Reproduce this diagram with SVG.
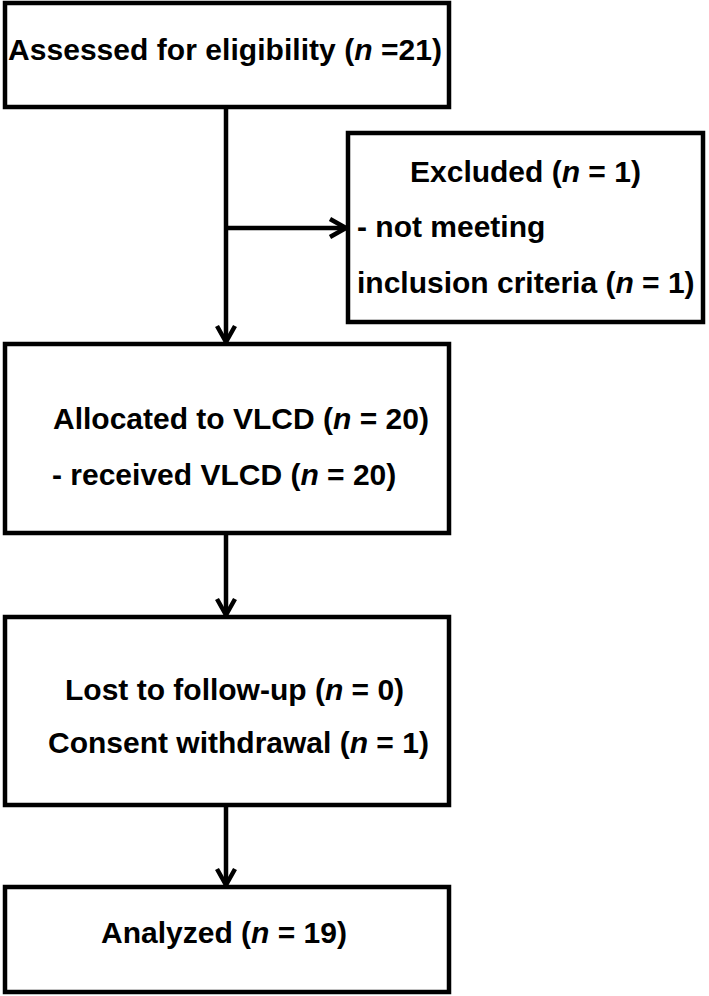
<svg xmlns="http://www.w3.org/2000/svg" width="709" height="996" viewBox="0 0 709 996">
  <style>
    .box { fill: #ffffff; stroke: #000000; stroke-width: 4.5; }
    .lbl { font-family: "Liberation Sans", Arial, sans-serif; font-weight: bold; font-size: 30px; fill: #000000; }
    .it { font-style: italic; }
    .conn { fill: none; stroke: #000000; stroke-width: 4.5; }
  </style>
  <defs>
    <marker id="arrow" markerUnits="userSpaceOnUse" markerWidth="30" markerHeight="30" viewBox="-20 -15 25 30" refX="0" refY="0" orient="auto">
      <path d="M -16 -9 L 0 0 L -16 9" fill="none" stroke="#000000" stroke-width="4.5" stroke-linejoin="miter"/>
    </marker>
  </defs>
  <rect x="0" y="0" width="709" height="996" fill="#ffffff"/>

  <g id="connectors">
    <path class="conn" d="M 226 107 L 226 342" marker-end="url(#arrow)"/>
    <path class="conn" d="M 226 228 L 346 228" marker-end="url(#arrow)"/>
    <path class="conn" d="M 226 533 L 226 615" marker-end="url(#arrow)"/>
    <path class="conn" d="M 226 805 L 226 885" marker-end="url(#arrow)"/>
  </g>

  <g id="assessed">
    <rect class="box" x="5" y="3" width="444" height="104"/>
    <text class="lbl" x="8" y="60" textLength="434">Assessed for eligibility (<tspan class="it">n</tspan> =21)</text>
  </g>

  <g id="excluded">
    <rect class="box" x="348" y="133" width="355" height="189"/>
    <text class="lbl" x="410" y="182">Excluded (<tspan class="it">n</tspan> = 1)</text>
    <text class="lbl" x="357" y="237">- not meeting</text>
    <text class="lbl" x="357" y="293">inclusion criteria (<tspan class="it">n</tspan> = 1)</text>
  </g>

  <g id="allocated">
    <rect class="box" x="5" y="344" width="444" height="189"/>
    <text class="lbl" x="53" y="429">Allocated to VLCD (<tspan class="it">n</tspan> = 20)</text>
    <text class="lbl" x="52" y="485">- received VLCD (<tspan class="it">n</tspan> = 20)</text>
  </g>

  <g id="followup">
    <rect class="box" x="5" y="617" width="444" height="188"/>
    <text class="lbl" x="65" y="700">Lost to follow-up (<tspan class="it">n</tspan> = 0)</text>
    <text class="lbl" x="48" y="753">Consent withdrawal (<tspan class="it">n</tspan> = 1)</text>
  </g>

  <g id="analyzed">
    <rect class="box" x="5" y="887" width="444" height="105"/>
    <text class="lbl" x="101" y="943">Analyzed (<tspan class="it">n</tspan> = 19)</text>
  </g>
</svg>
